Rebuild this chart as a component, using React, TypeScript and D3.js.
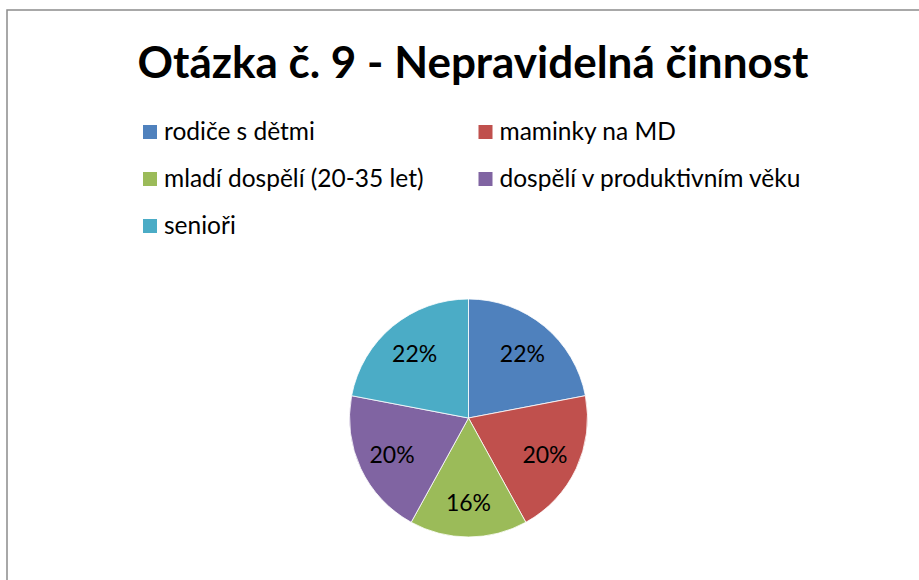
import React, { useRef, useEffect } from 'react';
import * as d3 from 'd3';

const title = 'Otázka č. 9 - Nepravidelná činnost';
const categories = [
  'rodiče s dětmi',
  'maminky na MD',
  'mladí dospělí (20-35 let)',
  'dospělí v produktivním věku',
  'senioři',
];
const values = [22, 20, 16, 20, 22];
const colors = ['#4F81BD', '#C0504D', '#9BBB59', '#8064A2', '#4BACC6'];

const W = 919;
const H = 580;

const App = () => {
  const ref = useRef<SVGSVGElement>(null);

  useEffect(() => {
    const svg = d3.select(ref.current);
    svg.selectAll('*').remove();

    svg.append('rect')
      .attr('x', 7)
      .attr('y', 10)
      .attr('width', W + 20)
      .attr('height', H + 20)
      .attr('fill', '#fff')
      .attr('stroke', '#8c8c8c')
      .attr('stroke-width', 1.5);

    svg.append('text')
      .attr('x', 473)
      .attr('y', 78)
      .attr('text-anchor', 'middle')
      .style('font-family', 'Lato, sans-serif')
      .style('font-weight', 'bold')
      .style('font-size', '44px')
      .text(title);

    // legend, two columns
    const legend = svg.append('g');
    const item = legend.selectAll('g')
      .data(categories)
      .join('g')
      .attr('transform', (d, i) => `translate(${i % 2 === 0 ? 143 : 478.5},${125 + Math.floor(i / 2) * 47})`);
    item.append('rect')
      .attr('width', 14)
      .attr('height', 14)
      .attr('fill', (d, i) => colors[i]);
    item.append('text')
      .attr('x', 21)
      .attr('y', 15)
      .style('font-family', 'Lato, sans-serif')
      .style('font-size', '24.5px')
      .text(d => d);

    const cx = 468.5, cy = 418, r = 119;
    const pie = d3.pie<number>().sort(null).value(d => d);
    const arcs = pie(values);
    const arc = d3.arc<d3.PieArcDatum<number>>().innerRadius(0).outerRadius(r);
    const labelArc = d3.arc<d3.PieArcDatum<number>>().innerRadius(r * 0.71).outerRadius(r * 0.71);
    const total = d3.sum(values);

    const g = svg.append('g').attr('transform', `translate(${cx},${cy})`);
    g.selectAll('path')
      .data(arcs)
      .join('path')
      .attr('d', arc)
      .attr('fill', (d, i) => colors[i])
      .attr('stroke', '#fff')
      .attr('stroke-width', 0.8);

    g.selectAll('text')
      .data(arcs)
      .join('text')
      .attr('transform', d => `translate(${labelArc.centroid(d)})`)
      .attr('text-anchor', 'middle')
      .attr('dy', '0.38em')
      .style('font-family', 'Lato, sans-serif')
      .style('font-size', '23px')
      .text(d => `${Math.round((d.data / total) * 100)}%`);
  }, []);

  return (
    <svg ref={ref} width={W} height={H} style={{ position: 'absolute', left: 0, top: 0 }} />
  );
};

export default App;
